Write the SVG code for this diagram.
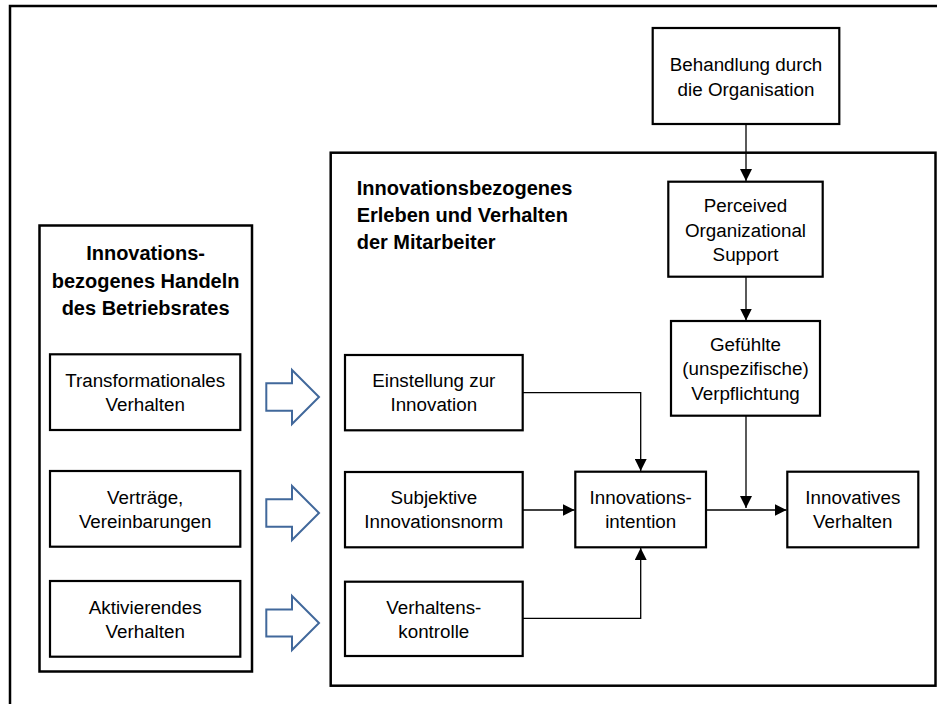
<svg xmlns="http://www.w3.org/2000/svg" width="937" height="704" viewBox="0 0 937 704">
<defs>
<style>
.frame{fill:none;stroke:#000;stroke-width:2.5}
.box{fill:#fff;stroke:#000;stroke-width:2.2}
.t{font-family:"Liberation Sans",Arial,sans-serif;font-size:18.8px;fill:#000;text-anchor:middle}
.b{font-family:"Liberation Sans",Arial,sans-serif;font-size:20px;font-weight:bold;fill:#000}
.c{fill:none;stroke:#000;stroke-width:1.3}
.blk{fill:#fff;stroke:#41689B;stroke-width:2}
</style>
<marker id="ah" viewBox="0 0 12 12" refX="12" refY="6" markerWidth="12" markerHeight="12" markerUnits="userSpaceOnUse" orient="auto">
<path d="M0,0 L12,6 L0,12 Z" fill="#000"/>
</marker>
</defs>
<rect width="937" height="704" fill="#fff"/>
<rect class="frame" x="10" y="6" width="960" height="740"/>

<g id="left-group">
<rect class="frame" x="39.5" y="225.5" width="212.5" height="446"/>
<text class="b" text-anchor="middle" x="145.6" y="260">Innovations-</text>
<text class="b" text-anchor="middle" x="145.6" y="287.5">bezogenes Handeln</text>
<text class="b" text-anchor="middle" x="145.6" y="315">des Betriebsrates</text>
</g>

<g id="right-group">
<rect class="frame" x="330.7" y="152.7" width="604.8" height="533"/>
<text class="b" x="356.7" y="195">Innovationsbezogenes</text>
<text class="b" x="356.7" y="222">Erleben und Verhalten</text>
<text class="b" x="356.7" y="249">der Mitarbeiter</text>
</g>

<g id="n-transformational">
<rect class="box" x="50" y="354.3" width="190.3" height="75.7"/>
<text class="t" x="145.2" y="386.7">Transformationales</text>
<text class="t" x="145.2" y="411">Verhalten</text>
</g>
<g id="n-vertraege">
<rect class="box" x="50" y="471" width="190.3" height="75.7"/>
<text class="t" x="145.2" y="504">Verträge,</text>
<text class="t" x="145.2" y="528.3">Vereinbarungen</text>
</g>
<g id="n-aktivierend">
<rect class="box" x="50" y="581" width="190.3" height="75.7"/>
<text class="t" x="145.2" y="614.3">Aktivierendes</text>
<text class="t" x="145.2" y="638.3">Verhalten</text>
</g>

<g id="n-behandlung">
<rect class="box" x="652.7" y="28" width="186.6" height="96"/>
<text class="t" x="746" y="71">Behandlung durch</text>
<text class="t" x="746" y="96">die Organisation</text>
</g>
<g id="n-pos">
<rect class="box" x="668.3" y="181.7" width="154.4" height="95"/>
<text class="t" x="745.5" y="212">Perceived</text>
<text class="t" x="745.5" y="236.5">Organizational</text>
<text class="t" x="745.5" y="261">Support</text>
</g>
<g id="n-gefuehlte">
<rect class="box" x="671" y="321" width="149" height="94.7"/>
<text class="t" x="745.5" y="350.5">Gefühlte</text>
<text class="t" x="745.5" y="375">(unspezifische)</text>
<text class="t" x="745.5" y="399.5">Verpflichtung</text>
</g>
<g id="n-einstellung">
<rect class="box" x="345" y="355" width="177.7" height="75.3"/>
<text class="t" x="433.8" y="386.7">Einstellung zur</text>
<text class="t" x="433.8" y="411">Innovation</text>
</g>
<g id="n-subjektive">
<rect class="box" x="345" y="472" width="177.7" height="75.3"/>
<text class="t" x="433.8" y="504">Subjektive</text>
<text class="t" x="433.8" y="528.3">Innovationsnorm</text>
</g>
<g id="n-verhaltenskontrolle">
<rect class="box" x="345" y="581.7" width="177.7" height="74.3"/>
<text class="t" x="433.8" y="614.3">Verhaltens-</text>
<text class="t" x="433.8" y="638.3">kontrolle</text>
</g>
<g id="n-intention">
<rect class="box" x="575.3" y="471.7" width="130.7" height="75.6"/>
<text class="t" x="640.7" y="504">Innovations-</text>
<text class="t" x="640.7" y="528.3">intention</text>
</g>
<g id="n-innovatives">
<rect class="box" x="787.3" y="471.7" width="131" height="75.6"/>
<text class="t" x="852.8" y="504">Innovatives</text>
<text class="t" x="852.8" y="528.3">Verhalten</text>
</g>

<g id="connectors">
<path class="c" d="M746,124 V181" marker-end="url(#ah)"/>
<path class="c" d="M746,276.7 V320.5" marker-end="url(#ah)"/>
<path class="c" d="M746,415.7 V508" marker-end="url(#ah)"/>
<path class="c" d="M706,510 H786.5" marker-end="url(#ah)"/>
<path class="c" d="M522.7,392.7 H640.7 V471" marker-end="url(#ah)"/>
<path class="c" d="M522.7,510 H574.5" marker-end="url(#ah)"/>
<path class="c" d="M522.7,618.3 H640.7 V548" marker-end="url(#ah)"/>
<path class="blk" d="M266.3,383.3 H292 V370 L319,397 L292,424 V410.7 H266.3 Z"/>
<path class="blk" d="M266.3,499.3 H292 V486 L319,513 L292,540 V526.7 H266.3 Z"/>
<path class="blk" d="M266.3,609.5 H292 V596 L319,623 L292,650 V636.5 H266.3 Z"/>
</g>
</svg>
